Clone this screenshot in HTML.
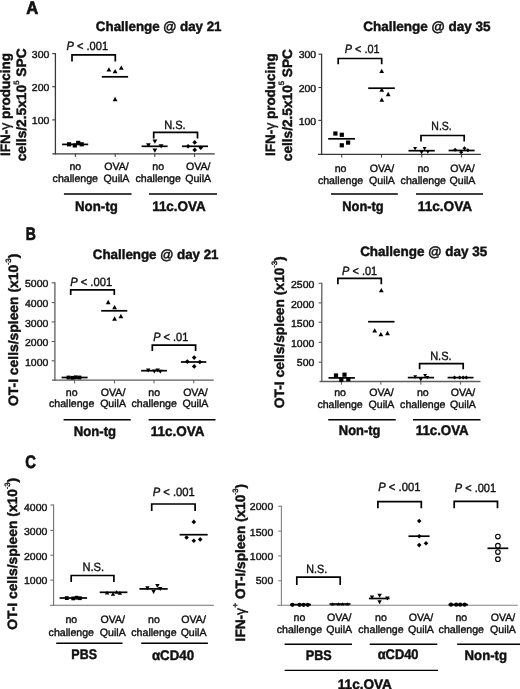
<!DOCTYPE html>
<html><head><meta charset="utf-8"><title>Figure</title>
<style>
html,body{margin:0;padding:0;background:#fff;}
body{width:520px;height:689px;overflow:hidden;}
svg{display:block;font-family:"Liberation Sans",sans-serif;will-change:transform;}
text{stroke:#111;text-rendering:geometricPrecision;}
</style></head>
<body>
<svg width="520" height="689" viewBox="0 0 520 689">
<rect width="520" height="689" fill="#fff"/>
<text x="26.15" y="13.70" font-size="18.00" stroke-width="0.70" font-weight="bold" textLength="12.00" lengthAdjust="spacingAndGlyphs" fill="#111">A</text>
<text x="95.85" y="31.30" font-size="13.60" stroke-width="0.45" font-weight="bold" textLength="125.70" lengthAdjust="spacingAndGlyphs" fill="#111">Challenge @ day 21</text>
<g transform="translate(9.70,156.00) rotate(-90) scale(0.9920,1)">
<text x="0" y="0" fill="#111" stroke-width="0.4">
<tspan x="0.00" y="0.00" font-size="13.60" stroke-width="0.45" font-weight="bold">IFN-</tspan>
<tspan x="26.44" y="0.00" font-size="14.28" stroke-width="0.40">γ</tspan>
<tspan x="37.35" y="0.00" font-size="13.60" stroke-width="0.45" font-weight="bold">producing</tspan>
</text></g>
<g transform="translate(26.20,161.30) rotate(-90) scale(1.0116,1)">
<text x="0" y="0" fill="#111" stroke-width="0.4">
<tspan x="0.00" y="0.00" font-size="13.60" stroke-width="0.45" font-weight="bold">cells/2.5x10</tspan>
<tspan x="75.62" y="-7.30" font-size="7.62" stroke-width="0.40">5</tspan>
<tspan x="83.64" y="0.00" font-size="13.60" stroke-width="0.45" font-weight="bold">SPC</tspan>
</text></g>
<line x1="55.40" y1="53.10" x2="55.40" y2="154.40" stroke="#383838" stroke-width="1.30"/>
<line x1="52.30" y1="153.80" x2="214.80" y2="153.80" stroke="#383838" stroke-width="1.30"/>
<line x1="52.20" y1="53.60" x2="55.40" y2="53.60" stroke="#383838" stroke-width="1.10"/>
<g transform="translate(31.83,0) scale(1.030,1)"><text x="0" y="57.75" font-size="10.20" stroke-width="0.40" fill="#111">300</text></g>
<line x1="52.20" y1="86.70" x2="55.40" y2="86.70" stroke="#383838" stroke-width="1.10"/>
<g transform="translate(31.83,0) scale(1.030,1)"><text x="0" y="90.75" font-size="10.20" stroke-width="0.40" fill="#111">200</text></g>
<line x1="52.20" y1="119.90" x2="55.40" y2="119.90" stroke="#383838" stroke-width="1.10"/>
<g transform="translate(31.83,0) scale(1.030,1)"><text x="0" y="123.85" font-size="10.20" stroke-width="0.40" fill="#111">100</text></g>
<line x1="75.40" y1="153.80" x2="75.40" y2="157.00" stroke="#383838" stroke-width="1.00"/>
<line x1="115.20" y1="153.80" x2="115.20" y2="157.00" stroke="#383838" stroke-width="1.00"/>
<line x1="154.80" y1="153.80" x2="154.80" y2="157.00" stroke="#383838" stroke-width="1.00"/>
<line x1="194.60" y1="153.80" x2="194.60" y2="157.00" stroke="#383838" stroke-width="1.00"/>
<text x="69.41" y="169.60" font-size="10.60" stroke-width="0.40" fill="#111">no</text>
<text x="52.61" y="181.60" font-size="10.60" stroke-width="0.40" fill="#111">challenge</text>
<text x="104.23" y="169.60" font-size="10.60" stroke-width="0.40" fill="#111">OVA/</text>
<text x="103.54" y="181.60" font-size="10.60" stroke-width="0.40" fill="#111">QuilA</text>
<text x="152.31" y="169.60" font-size="10.60" stroke-width="0.40" fill="#111">no</text>
<text x="135.51" y="181.60" font-size="10.60" stroke-width="0.40" fill="#111">challenge</text>
<text x="185.93" y="169.60" font-size="10.60" stroke-width="0.40" fill="#111">OVA/</text>
<text x="185.24" y="181.60" font-size="10.60" stroke-width="0.40" fill="#111">QuilA</text>
<line x1="63.90" y1="194.00" x2="131.60" y2="194.00" stroke="#000" stroke-width="1.40"/>
<line x1="149.00" y1="194.00" x2="217.00" y2="194.00" stroke="#000" stroke-width="1.40"/>
<text x="75.05" y="210.50" font-size="13.90" stroke-width="0.45" font-weight="bold" textLength="42.70" lengthAdjust="spacingAndGlyphs" fill="#111">Non-tg</text>
<text x="152.15" y="210.60" font-size="13.90" stroke-width="0.45" font-weight="bold" textLength="53.60" lengthAdjust="spacingAndGlyphs" fill="#111">11c.OVA</text>
<path d="M72.00 61.50 V54.90 H115.30 V61.50" fill="none" stroke="#000" stroke-width="1.70" stroke-linejoin="miter" stroke-linecap="butt"/>
<g transform="translate(66.45,50.40) scale(0.9259,1)">
<text x="0" y="0" font-size="12.00" fill="#111" stroke-width="0.4"><tspan font-style="italic">P</tspan><tspan x="11.34">&lt; .001</tspan></text>
</g>
<path d="M153.70 138.60 V132.30 H197.50 V138.60" fill="none" stroke="#000" stroke-width="1.70" stroke-linejoin="miter" stroke-linecap="butt"/>
<text x="164.15" y="128.80" font-size="12.00" stroke-width="0.40" textLength="21.50" lengthAdjust="spacingAndGlyphs" fill="#111">N.S.</text>
<line x1="62.10" y1="144.40" x2="88.20" y2="144.40" stroke="#000" stroke-width="1.70"/>
<rect x="67.00" y="142.20" width="4.20" height="4.20" fill="#000"/>
<rect x="72.70" y="143.30" width="4.20" height="4.20" fill="#000"/>
<rect x="76.10" y="140.80" width="4.20" height="4.20" fill="#000"/>
<rect x="79.60" y="142.20" width="4.20" height="4.20" fill="#000"/>
<line x1="101.80" y1="76.80" x2="128.10" y2="76.80" stroke="#000" stroke-width="1.70"/>
<path d="M106.50 71.45 L111.30 71.45 L108.90 67.15 Z" fill="#000"/>
<path d="M112.70 73.35 L117.50 73.35 L115.10 69.05 Z" fill="#000"/>
<path d="M118.90 69.75 L123.70 69.75 L121.30 65.45 Z" fill="#000"/>
<path d="M112.70 101.15 L117.50 101.15 L115.10 96.85 Z" fill="#000"/>
<line x1="141.60" y1="146.30" x2="167.60" y2="146.30" stroke="#000" stroke-width="1.70"/>
<path d="M146.00 143.15 L150.80 143.15 L148.40 147.45 Z" fill="#000"/>
<path d="M152.50 139.55 L157.30 139.55 L154.90 143.85 Z" fill="#000"/>
<path d="M158.70 144.15 L163.50 144.15 L161.10 148.45 Z" fill="#000"/>
<path d="M152.50 148.55 L157.30 148.55 L154.90 152.85 Z" fill="#000"/>
<line x1="182.00" y1="146.30" x2="208.00" y2="146.30" stroke="#000" stroke-width="1.70"/>
<path d="M188.10 144.00 L190.40 146.30 L188.10 148.60 L185.80 146.30 Z" fill="#000"/>
<path d="M194.70 140.10 L197.00 142.40 L194.70 144.70 L192.40 142.40 Z" fill="#000"/>
<path d="M194.70 147.60 L197.00 149.90 L194.70 152.20 L192.40 149.90 Z" fill="#000"/>
<path d="M200.80 145.50 L203.10 147.80 L200.80 150.10 L198.50 147.80 Z" fill="#000"/>
<text x="363.15" y="31.45" font-size="13.60" stroke-width="0.45" font-weight="bold" textLength="127.30" lengthAdjust="spacingAndGlyphs" fill="#111">Challenge @ day 35</text>
<g transform="translate(274.90,156.00) rotate(-90) scale(0.9891,1)">
<text x="0" y="0" fill="#111" stroke-width="0.4">
<tspan x="0.00" y="0.00" font-size="13.60" stroke-width="0.45" font-weight="bold">IFN-</tspan>
<tspan x="26.44" y="0.00" font-size="14.28" stroke-width="0.40">γ</tspan>
<tspan x="37.35" y="0.00" font-size="13.60" stroke-width="0.45" font-weight="bold">producing</tspan>
</text></g>
<g transform="translate(291.50,161.20) rotate(-90) scale(1.0045,1)">
<text x="0" y="0" fill="#111" stroke-width="0.4">
<tspan x="0.00" y="0.00" font-size="13.60" stroke-width="0.45" font-weight="bold">cells/2.5x10</tspan>
<tspan x="75.62" y="-7.30" font-size="7.62" stroke-width="0.40">5</tspan>
<tspan x="83.64" y="0.00" font-size="13.60" stroke-width="0.45" font-weight="bold">SPC</tspan>
</text></g>
<line x1="321.60" y1="53.70" x2="321.60" y2="154.90" stroke="#383838" stroke-width="1.30"/>
<line x1="318.00" y1="154.30" x2="480.80" y2="154.30" stroke="#383838" stroke-width="1.30"/>
<line x1="318.40" y1="54.20" x2="321.60" y2="54.20" stroke="#383838" stroke-width="1.10"/>
<g transform="translate(298.63,0) scale(1.030,1)"><text x="0" y="58.15" font-size="10.20" stroke-width="0.40" fill="#111">300</text></g>
<line x1="318.40" y1="87.50" x2="321.60" y2="87.50" stroke="#383838" stroke-width="1.10"/>
<g transform="translate(298.63,0) scale(1.030,1)"><text x="0" y="91.65" font-size="10.20" stroke-width="0.40" fill="#111">200</text></g>
<line x1="318.40" y1="120.40" x2="321.60" y2="120.40" stroke="#383838" stroke-width="1.10"/>
<g transform="translate(298.63,0) scale(1.030,1)"><text x="0" y="124.65" font-size="10.20" stroke-width="0.40" fill="#111">100</text></g>
<line x1="341.80" y1="154.30" x2="341.80" y2="157.50" stroke="#383838" stroke-width="1.00"/>
<line x1="381.50" y1="154.30" x2="381.50" y2="157.50" stroke="#383838" stroke-width="1.00"/>
<line x1="421.80" y1="154.30" x2="421.80" y2="157.50" stroke="#383838" stroke-width="1.00"/>
<line x1="461.60" y1="154.30" x2="461.60" y2="157.50" stroke="#383838" stroke-width="1.00"/>
<text x="334.71" y="171.80" font-size="10.60" stroke-width="0.40" fill="#111">no</text>
<text x="317.91" y="183.60" font-size="10.60" stroke-width="0.40" fill="#111">challenge</text>
<text x="369.73" y="171.80" font-size="10.60" stroke-width="0.40" fill="#111">OVA/</text>
<text x="369.04" y="183.60" font-size="10.60" stroke-width="0.40" fill="#111">QuilA</text>
<text x="417.41" y="171.80" font-size="10.60" stroke-width="0.40" fill="#111">no</text>
<text x="400.61" y="183.60" font-size="10.60" stroke-width="0.40" fill="#111">challenge</text>
<text x="450.23" y="171.80" font-size="10.60" stroke-width="0.40" fill="#111">OVA/</text>
<text x="449.54" y="183.60" font-size="10.60" stroke-width="0.40" fill="#111">QuilA</text>
<line x1="331.00" y1="194.00" x2="397.80" y2="194.00" stroke="#000" stroke-width="1.40"/>
<line x1="416.00" y1="194.00" x2="483.00" y2="194.00" stroke="#000" stroke-width="1.40"/>
<text x="342.25" y="210.60" font-size="13.90" stroke-width="0.45" font-weight="bold" textLength="41.40" lengthAdjust="spacingAndGlyphs" fill="#111">Non-tg</text>
<text x="417.85" y="210.60" font-size="13.90" stroke-width="0.45" font-weight="bold" textLength="54.30" lengthAdjust="spacingAndGlyphs" fill="#111">11c.OVA</text>
<path d="M338.20 64.20 V58.50 H381.70 V64.20" fill="none" stroke="#000" stroke-width="1.70" stroke-linejoin="miter" stroke-linecap="butt"/>
<g transform="translate(344.85,52.70) scale(0.9019,1)">
<text x="0" y="0" font-size="12.00" fill="#111" stroke-width="0.4"><tspan font-style="italic">P</tspan><tspan x="11.34">&lt; .01</tspan></text>
</g>
<path d="M421.00 141.50 V135.50 H464.20 V141.50" fill="none" stroke="#000" stroke-width="1.70" stroke-linejoin="miter" stroke-linecap="butt"/>
<text x="431.35" y="130.30" font-size="12.00" stroke-width="0.40" textLength="20.40" lengthAdjust="spacingAndGlyphs" fill="#111">N.S.</text>
<line x1="328.20" y1="138.80" x2="355.00" y2="138.80" stroke="#000" stroke-width="1.70"/>
<rect x="333.30" y="131.40" width="4.20" height="4.20" fill="#000"/>
<rect x="339.70" y="132.70" width="4.20" height="4.20" fill="#000"/>
<rect x="339.70" y="143.20" width="4.20" height="4.20" fill="#000"/>
<rect x="346.00" y="140.50" width="4.20" height="4.20" fill="#000"/>
<line x1="368.20" y1="88.20" x2="394.80" y2="88.20" stroke="#000" stroke-width="1.70"/>
<path d="M379.30 72.95 L384.10 72.95 L381.70 68.65 Z" fill="#000"/>
<path d="M379.40 91.75 L384.20 91.75 L381.80 87.45 Z" fill="#000"/>
<path d="M385.80 96.15 L390.60 96.15 L388.20 91.85 Z" fill="#000"/>
<path d="M379.40 101.85 L384.20 101.85 L381.80 97.55 Z" fill="#000"/>
<line x1="408.50" y1="150.70" x2="434.80" y2="150.70" stroke="#000" stroke-width="1.70"/>
<path d="M413.10 146.95 L417.10 146.95 L415.10 150.45 Z" fill="#000"/>
<path d="M422.60 146.95 L426.60 146.95 L424.60 150.45 Z" fill="#000"/>
<path d="M419.60 150.65 L423.60 150.65 L421.60 154.15 Z" fill="#000"/>
<path d="M425.80 150.25 L429.80 150.25 L427.80 153.75 Z" fill="#000"/>
<line x1="448.60" y1="150.50" x2="474.60" y2="150.50" stroke="#000" stroke-width="1.70"/>
<path d="M455.10 147.80 L457.10 149.80 L455.10 151.80 L453.10 149.80 Z" fill="#000"/>
<path d="M461.20 150.20 L463.20 152.20 L461.20 154.20 L459.20 152.20 Z" fill="#000"/>
<path d="M464.50 146.20 L466.50 148.20 L464.50 150.20 L462.50 148.20 Z" fill="#000"/>
<path d="M467.90 148.30 L469.90 150.30 L467.90 152.30 L465.90 150.30 Z" fill="#000"/>
<text x="25.75" y="239.60" font-size="18.00" stroke-width="0.70" font-weight="bold" textLength="10.10" lengthAdjust="spacingAndGlyphs" fill="#111">B</text>
<text x="92.75" y="258.50" font-size="13.60" stroke-width="0.45" font-weight="bold" textLength="125.80" lengthAdjust="spacingAndGlyphs" fill="#111">Challenge @ day 21</text>
<g transform="translate(17.80,406.00) rotate(-90) scale(1.0212,1)">
<text x="0" y="0" fill="#111" stroke-width="0.4">
<tspan x="0.00" y="0.00" font-size="13.60" stroke-width="0.45" font-weight="bold">OT-I cells/spleen (x10</tspan>
<tspan x="138.33" y="-8.00" font-size="6.12" stroke-width="0.40">-</tspan>
<tspan x="140.37" y="-7.00" font-size="7.62" stroke-width="0.40">3</tspan>
<tspan x="144.61" y="0.00" font-size="13.60" stroke-width="0.45" font-weight="bold">)</tspan>
</text></g>
<line x1="54.90" y1="282.30" x2="54.90" y2="380.80" stroke="#5c5c5c" stroke-width="1.30"/>
<line x1="52.00" y1="380.20" x2="213.70" y2="380.20" stroke="#5c5c5c" stroke-width="1.30"/>
<line x1="51.70" y1="282.80" x2="54.90" y2="282.80" stroke="#5c5c5c" stroke-width="1.10"/>
<g transform="translate(24.97,0) scale(1.030,1)"><text x="0" y="287.05" font-size="10.20" stroke-width="0.40" fill="#111">5000</text></g>
<line x1="51.70" y1="302.60" x2="54.90" y2="302.60" stroke="#5c5c5c" stroke-width="1.10"/>
<g transform="translate(24.97,0) scale(1.030,1)"><text x="0" y="307.05" font-size="10.20" stroke-width="0.40" fill="#111">4000</text></g>
<line x1="51.70" y1="321.90" x2="54.90" y2="321.90" stroke="#5c5c5c" stroke-width="1.10"/>
<g transform="translate(24.97,0) scale(1.030,1)"><text x="0" y="326.85" font-size="10.20" stroke-width="0.40" fill="#111">3000</text></g>
<line x1="51.70" y1="341.50" x2="54.90" y2="341.50" stroke="#5c5c5c" stroke-width="1.10"/>
<g transform="translate(24.97,0) scale(1.030,1)"><text x="0" y="346.25" font-size="10.20" stroke-width="0.40" fill="#111">2000</text></g>
<line x1="51.70" y1="360.80" x2="54.90" y2="360.80" stroke="#5c5c5c" stroke-width="1.10"/>
<g transform="translate(24.97,0) scale(1.030,1)"><text x="0" y="365.55" font-size="10.20" stroke-width="0.40" fill="#111">1000</text></g>
<line x1="74.60" y1="380.20" x2="74.60" y2="383.40" stroke="#5c5c5c" stroke-width="1.00"/>
<line x1="114.50" y1="380.20" x2="114.50" y2="383.40" stroke="#5c5c5c" stroke-width="1.00"/>
<line x1="154.00" y1="380.20" x2="154.00" y2="383.40" stroke="#5c5c5c" stroke-width="1.00"/>
<line x1="193.80" y1="380.20" x2="193.80" y2="383.40" stroke="#5c5c5c" stroke-width="1.00"/>
<text x="65.81" y="395.60" font-size="10.60" stroke-width="0.40" fill="#111">no</text>
<text x="49.01" y="407.40" font-size="10.60" stroke-width="0.40" fill="#111">challenge</text>
<text x="100.83" y="395.60" font-size="10.60" stroke-width="0.40" fill="#111">OVA/</text>
<text x="100.14" y="407.40" font-size="10.60" stroke-width="0.40" fill="#111">QuilA</text>
<text x="148.31" y="395.60" font-size="10.60" stroke-width="0.40" fill="#111">no</text>
<text x="131.51" y="407.40" font-size="10.60" stroke-width="0.40" fill="#111">challenge</text>
<text x="183.13" y="395.60" font-size="10.60" stroke-width="0.40" fill="#111">OVA/</text>
<text x="182.44" y="407.40" font-size="10.60" stroke-width="0.40" fill="#111">QuilA</text>
<line x1="63.60" y1="419.70" x2="130.70" y2="419.70" stroke="#000" stroke-width="1.40"/>
<line x1="148.60" y1="419.70" x2="215.50" y2="419.70" stroke="#000" stroke-width="1.40"/>
<text x="73.85" y="436.30" font-size="13.90" stroke-width="0.45" font-weight="bold" textLength="42.30" lengthAdjust="spacingAndGlyphs" fill="#111">Non-tg</text>
<text x="150.75" y="436.30" font-size="13.90" stroke-width="0.45" font-weight="bold" textLength="53.60" lengthAdjust="spacingAndGlyphs" fill="#111">11c.OVA</text>
<path d="M70.70 295.00 V289.90 H114.30 V295.00" fill="none" stroke="#000" stroke-width="1.70" stroke-linejoin="miter" stroke-linecap="butt"/>
<g transform="translate(70.15,285.90) scale(0.9326,1)">
<text x="0" y="0" font-size="12.00" fill="#111" stroke-width="0.4"><tspan font-style="italic">P</tspan><tspan x="11.34">&lt; .001</tspan></text>
</g>
<path d="M152.30 351.10 V345.10 H195.60 V351.10" fill="none" stroke="#000" stroke-width="1.70" stroke-linejoin="miter" stroke-linecap="butt"/>
<g transform="translate(153.15,341.10) scale(0.9149,1)">
<text x="0" y="0" font-size="12.00" fill="#111" stroke-width="0.4"><tspan font-style="italic">P</tspan><tspan x="11.34">&lt; .01</tspan></text>
</g>
<line x1="61.60" y1="377.50" x2="87.60" y2="377.50" stroke="#000" stroke-width="1.70"/>
<rect x="66.60" y="375.60" width="3.80" height="3.80" fill="#000"/>
<rect x="70.60" y="375.90" width="3.80" height="3.80" fill="#000"/>
<rect x="73.90" y="375.40" width="3.80" height="3.80" fill="#000"/>
<rect x="77.60" y="375.60" width="3.80" height="3.80" fill="#000"/>
<line x1="101.20" y1="310.80" x2="127.30" y2="310.80" stroke="#000" stroke-width="1.70"/>
<path d="M105.80 304.15 L110.60 304.15 L108.20 299.85 Z" fill="#000"/>
<path d="M112.20 309.35 L117.00 309.35 L114.60 305.05 Z" fill="#000"/>
<path d="M112.20 320.65 L117.00 320.65 L114.60 316.35 Z" fill="#000"/>
<path d="M118.50 318.15 L123.30 318.15 L120.90 313.85 Z" fill="#000"/>
<line x1="141.10" y1="370.70" x2="167.00" y2="370.70" stroke="#000" stroke-width="1.70"/>
<path d="M146.00 368.40 L150.40 368.40 L148.20 372.40 Z" fill="#000"/>
<path d="M152.10 369.60 L156.50 369.60 L154.30 373.60 Z" fill="#000"/>
<path d="M155.50 368.40 L159.90 368.40 L157.70 372.40 Z" fill="#000"/>
<path d="M158.10 369.80 L162.50 369.80 L160.30 373.80 Z" fill="#000"/>
<line x1="180.90" y1="362.00" x2="206.30" y2="362.00" stroke="#000" stroke-width="1.70"/>
<path d="M187.30 359.30 L189.60 361.60 L187.30 363.90 L185.00 361.60 Z" fill="#000"/>
<path d="M194.20 355.30 L196.50 357.60 L194.20 359.90 L191.90 357.60 Z" fill="#000"/>
<path d="M194.20 364.10 L196.50 366.40 L194.20 368.70 L191.90 366.40 Z" fill="#000"/>
<path d="M199.90 359.70 L202.20 362.00 L199.90 364.30 L197.60 362.00 Z" fill="#000"/>
<text x="360.15" y="255.60" font-size="13.60" stroke-width="0.45" font-weight="bold" textLength="127.00" lengthAdjust="spacingAndGlyphs" fill="#111">Challenge @ day 35</text>
<g transform="translate(284.40,408.20) rotate(-90) scale(1.0179,1)">
<text x="0" y="0" fill="#111" stroke-width="0.4">
<tspan x="0.00" y="0.00" font-size="13.60" stroke-width="0.45" font-weight="bold">OT-I cells/spleen (x10</tspan>
<tspan x="138.33" y="-8.00" font-size="6.12" stroke-width="0.40">-</tspan>
<tspan x="140.37" y="-7.00" font-size="7.62" stroke-width="0.40">3</tspan>
<tspan x="144.61" y="0.00" font-size="13.60" stroke-width="0.45" font-weight="bold">)</tspan>
</text></g>
<line x1="321.80" y1="282.80" x2="321.80" y2="382.10" stroke="#5c5c5c" stroke-width="1.30"/>
<line x1="319.50" y1="381.50" x2="480.50" y2="381.50" stroke="#5c5c5c" stroke-width="1.30"/>
<line x1="318.60" y1="283.30" x2="321.80" y2="283.30" stroke="#5c5c5c" stroke-width="1.10"/>
<g transform="translate(290.97,0) scale(1.030,1)"><text x="0" y="287.95" font-size="10.20" stroke-width="0.40" fill="#111">2500</text></g>
<line x1="318.60" y1="302.90" x2="321.80" y2="302.90" stroke="#5c5c5c" stroke-width="1.10"/>
<g transform="translate(290.97,0) scale(1.030,1)"><text x="0" y="307.65" font-size="10.20" stroke-width="0.40" fill="#111">2000</text></g>
<line x1="318.60" y1="322.20" x2="321.80" y2="322.20" stroke="#5c5c5c" stroke-width="1.10"/>
<g transform="translate(290.97,0) scale(1.030,1)"><text x="0" y="326.95" font-size="10.20" stroke-width="0.40" fill="#111">1500</text></g>
<line x1="318.60" y1="342.30" x2="321.80" y2="342.30" stroke="#5c5c5c" stroke-width="1.10"/>
<g transform="translate(290.97,0) scale(1.030,1)"><text x="0" y="346.65" font-size="10.20" stroke-width="0.40" fill="#111">1000</text></g>
<line x1="318.60" y1="362.20" x2="321.80" y2="362.20" stroke="#5c5c5c" stroke-width="1.10"/>
<g transform="translate(296.83,0) scale(1.030,1)"><text x="0" y="366.35" font-size="10.20" stroke-width="0.40" fill="#111">500</text></g>
<line x1="341.50" y1="381.50" x2="341.50" y2="384.70" stroke="#5c5c5c" stroke-width="1.00"/>
<line x1="380.90" y1="381.50" x2="380.90" y2="384.70" stroke="#5c5c5c" stroke-width="1.00"/>
<line x1="420.80" y1="381.50" x2="420.80" y2="384.70" stroke="#5c5c5c" stroke-width="1.00"/>
<line x1="460.60" y1="381.50" x2="460.60" y2="384.70" stroke="#5c5c5c" stroke-width="1.00"/>
<text x="334.21" y="395.60" font-size="10.60" stroke-width="0.40" fill="#111">no</text>
<text x="317.41" y="407.60" font-size="10.60" stroke-width="0.40" fill="#111">challenge</text>
<text x="369.23" y="395.60" font-size="10.60" stroke-width="0.40" fill="#111">OVA/</text>
<text x="368.54" y="407.60" font-size="10.60" stroke-width="0.40" fill="#111">QuilA</text>
<text x="416.91" y="395.60" font-size="10.60" stroke-width="0.40" fill="#111">no</text>
<text x="400.11" y="407.60" font-size="10.60" stroke-width="0.40" fill="#111">challenge</text>
<text x="450.73" y="395.60" font-size="10.60" stroke-width="0.40" fill="#111">OVA/</text>
<text x="450.04" y="407.60" font-size="10.60" stroke-width="0.40" fill="#111">QuilA</text>
<line x1="328.20" y1="419.80" x2="395.70" y2="419.80" stroke="#000" stroke-width="1.40"/>
<line x1="413.00" y1="419.80" x2="480.50" y2="419.80" stroke="#000" stroke-width="1.40"/>
<text x="338.85" y="435.20" font-size="13.90" stroke-width="0.45" font-weight="bold" textLength="41.60" lengthAdjust="spacingAndGlyphs" fill="#111">Non-tg</text>
<text x="415.75" y="435.20" font-size="13.90" stroke-width="0.45" font-weight="bold" textLength="52.90" lengthAdjust="spacingAndGlyphs" fill="#111">11c.OVA</text>
<path d="M337.90 284.20 V278.30 H381.30 V284.20" fill="none" stroke="#000" stroke-width="1.70" stroke-linejoin="miter" stroke-linecap="butt"/>
<g transform="translate(342.05,274.70) scale(0.9149,1)">
<text x="0" y="0" font-size="12.00" fill="#111" stroke-width="0.4"><tspan font-style="italic">P</tspan><tspan x="11.34">&lt; .01</tspan></text>
</g>
<path d="M419.60 369.30 V363.60 H463.20 V369.30" fill="none" stroke="#000" stroke-width="1.70" stroke-linejoin="miter" stroke-linecap="butt"/>
<text x="430.15" y="359.50" font-size="12.00" stroke-width="0.40" textLength="21.40" lengthAdjust="spacingAndGlyphs" fill="#111">N.S.</text>
<line x1="328.50" y1="377.90" x2="354.90" y2="377.90" stroke="#000" stroke-width="1.70"/>
<rect x="333.90" y="373.40" width="4.20" height="4.20" fill="#000"/>
<rect x="342.40" y="372.60" width="4.20" height="4.20" fill="#000"/>
<rect x="339.20" y="377.70" width="4.20" height="4.20" fill="#000"/>
<rect x="346.20" y="377.10" width="4.20" height="4.20" fill="#000"/>
<line x1="368.10" y1="321.70" x2="394.50" y2="321.70" stroke="#000" stroke-width="1.70"/>
<path d="M378.90 292.35 L383.70 292.35 L381.30 288.05 Z" fill="#000"/>
<path d="M372.30 332.55 L377.10 332.55 L374.70 328.25 Z" fill="#000"/>
<path d="M378.50 336.35 L383.30 336.35 L380.90 332.05 Z" fill="#000"/>
<path d="M385.10 335.15 L389.90 335.15 L387.50 330.85 Z" fill="#000"/>
<line x1="407.80" y1="377.60" x2="434.10" y2="377.60" stroke="#000" stroke-width="1.70"/>
<path d="M413.30 375.30 L417.10 375.30 L415.20 378.70 Z" fill="#000"/>
<path d="M418.90 378.00 L422.70 378.00 L420.80 381.40 Z" fill="#000"/>
<path d="M423.20 374.00 L427.00 374.00 L425.10 377.40 Z" fill="#000"/>
<path d="M425.40 375.90 L429.20 375.90 L427.30 379.30 Z" fill="#000"/>
<line x1="447.60" y1="377.60" x2="473.50" y2="377.60" stroke="#000" stroke-width="1.70"/>
<path d="M454.50 375.60 L456.50 377.60 L454.50 379.60 L452.50 377.60 Z" fill="#000"/>
<path d="M459.70 375.60 L461.70 377.60 L459.70 379.60 L457.70 377.60 Z" fill="#000"/>
<path d="M463.20 375.60 L465.20 377.60 L463.20 379.60 L461.20 377.60 Z" fill="#000"/>
<path d="M466.30 375.60 L468.30 377.60 L466.30 379.60 L464.30 377.60 Z" fill="#000"/>
<text x="25.35" y="467.50" font-size="18.00" stroke-width="0.70" font-weight="bold" textLength="10.70" lengthAdjust="spacingAndGlyphs" fill="#111">C</text>
<g transform="translate(16.50,629.80) rotate(-90) scale(1.0185,1)">
<text x="0" y="0" fill="#111" stroke-width="0.4">
<tspan x="0.00" y="0.00" font-size="13.60" stroke-width="0.45" font-weight="bold">OT-I cells/spleen (x10</tspan>
<tspan x="138.33" y="-8.00" font-size="6.12" stroke-width="0.40">-</tspan>
<tspan x="140.37" y="-7.00" font-size="7.62" stroke-width="0.40">3</tspan>
<tspan x="144.61" y="0.00" font-size="13.60" stroke-width="0.45" font-weight="bold">)</tspan>
</text></g>
<line x1="53.60" y1="504.50" x2="53.60" y2="605.80" stroke="#707070" stroke-width="1.10"/>
<line x1="50.00" y1="605.20" x2="213.90" y2="605.20" stroke="#707070" stroke-width="1.10"/>
<line x1="50.40" y1="505.00" x2="53.60" y2="505.00" stroke="#707070" stroke-width="1.10"/>
<g transform="translate(23.97,0) scale(1.030,1)"><text x="0" y="511.45" font-size="10.20" stroke-width="0.40" fill="#111">4000</text></g>
<line x1="50.40" y1="530.40" x2="53.60" y2="530.40" stroke="#707070" stroke-width="1.10"/>
<g transform="translate(23.97,0) scale(1.030,1)"><text x="0" y="535.35" font-size="10.20" stroke-width="0.40" fill="#111">3000</text></g>
<line x1="50.40" y1="555.20" x2="53.60" y2="555.20" stroke="#707070" stroke-width="1.10"/>
<g transform="translate(23.97,0) scale(1.030,1)"><text x="0" y="559.65" font-size="10.20" stroke-width="0.40" fill="#111">2000</text></g>
<line x1="50.40" y1="580.10" x2="53.60" y2="580.10" stroke="#707070" stroke-width="1.10"/>
<g transform="translate(23.97,0) scale(1.030,1)"><text x="0" y="584.15" font-size="10.20" stroke-width="0.40" fill="#111">1000</text></g>
<text x="65.41" y="622.60" font-size="10.60" stroke-width="0.40" fill="#111">no</text>
<text x="48.61" y="635.60" font-size="10.60" stroke-width="0.40" fill="#111">challenge</text>
<text x="100.53" y="622.60" font-size="10.60" stroke-width="0.40" fill="#111">OVA/</text>
<text x="99.84" y="635.60" font-size="10.60" stroke-width="0.40" fill="#111">QuilA</text>
<text x="148.11" y="622.60" font-size="10.60" stroke-width="0.40" fill="#111">no</text>
<text x="131.31" y="635.60" font-size="10.60" stroke-width="0.40" fill="#111">challenge</text>
<text x="181.33" y="622.60" font-size="10.60" stroke-width="0.40" fill="#111">OVA/</text>
<text x="180.64" y="635.60" font-size="10.60" stroke-width="0.40" fill="#111">QuilA</text>
<line x1="56.20" y1="643.30" x2="122.50" y2="643.30" stroke="#000" stroke-width="1.40"/>
<line x1="141.20" y1="643.30" x2="207.90" y2="643.30" stroke="#000" stroke-width="1.40"/>
<text x="71.35" y="658.60" font-size="13.90" stroke-width="0.45" font-weight="bold" textLength="25.60" lengthAdjust="spacingAndGlyphs" fill="#111">PBS</text>
<text x="151.95" y="659.50" font-size="13.90" stroke-width="0.45" font-weight="bold" textLength="42.11" lengthAdjust="spacingAndGlyphs" fill="#111">αCD40</text>
<path d="M71.20 582.00 V575.50 H113.90 V582.00" fill="none" stroke="#000" stroke-width="1.70" stroke-linejoin="miter" stroke-linecap="butt"/>
<text x="82.45" y="570.60" font-size="12.00" stroke-width="0.40" textLength="21.60" lengthAdjust="spacingAndGlyphs" fill="#111">N.S.</text>
<path d="M151.70 511.10 V504.00 H195.10 V511.10" fill="none" stroke="#000" stroke-width="1.70" stroke-linejoin="miter" stroke-linecap="butt"/>
<g transform="translate(152.65,496.00) scale(0.9348,1)">
<text x="0" y="0" font-size="12.00" fill="#111" stroke-width="0.4"><tspan font-style="italic">P</tspan><tspan x="11.34">&lt; .001</tspan></text>
</g>
<line x1="59.60" y1="598.00" x2="87.10" y2="598.00" stroke="#000" stroke-width="1.70"/>
<rect x="64.90" y="596.20" width="3.80" height="3.80" fill="#000"/>
<rect x="71.30" y="596.50" width="3.80" height="3.80" fill="#000"/>
<rect x="74.70" y="595.80" width="3.80" height="3.80" fill="#000"/>
<rect x="78.00" y="596.30" width="3.80" height="3.80" fill="#000"/>
<line x1="99.70" y1="592.30" x2="127.40" y2="592.30" stroke="#000" stroke-width="1.70"/>
<path d="M104.90 594.55 L109.30 594.55 L107.10 590.65 Z" fill="#000"/>
<path d="M110.80 595.85 L115.20 595.85 L113.00 591.95 Z" fill="#000"/>
<path d="M114.40 593.85 L118.80 593.85 L116.60 589.95 Z" fill="#000"/>
<path d="M117.70 594.65 L122.10 594.65 L119.90 590.75 Z" fill="#000"/>
<line x1="139.40" y1="588.90" x2="167.70" y2="588.90" stroke="#000" stroke-width="1.70"/>
<path d="M145.20 586.20 L149.60 586.20 L147.40 590.20 Z" fill="#000"/>
<path d="M151.40 590.00 L155.80 590.00 L153.60 594.00 Z" fill="#000"/>
<path d="M155.20 583.90 L159.60 583.90 L157.40 587.90 Z" fill="#000"/>
<path d="M158.00 586.90 L162.40 586.90 L160.20 590.90 Z" fill="#000"/>
<line x1="179.60" y1="534.70" x2="207.70" y2="534.70" stroke="#000" stroke-width="1.70"/>
<path d="M193.80 519.60 L196.10 521.90 L193.80 524.20 L191.50 521.90 Z" fill="#000"/>
<path d="M186.60 535.20 L188.90 537.50 L186.60 539.80 L184.30 537.50 Z" fill="#000"/>
<path d="M193.80 538.50 L196.10 540.80 L193.80 543.10 L191.50 540.80 Z" fill="#000"/>
<path d="M200.20 537.10 L202.50 539.40 L200.20 541.70 L197.90 539.40 Z" fill="#000"/>
<g transform="translate(244.60,641.40) rotate(-90) scale(1.0007,1)">
<text x="0" y="0" fill="#111" stroke-width="0.4">
<tspan x="0.00" y="0.00" font-size="13.60" stroke-width="0.45" font-weight="bold">IFN-</tspan>
<tspan x="26.44" y="0.00" font-size="14.28" stroke-width="0.40">γ</tspan>
<tspan x="33.58" y="-6.60" font-size="8.43" stroke-width="0.40">+</tspan>
<tspan x="42.28" y="0.00" font-size="13.60" stroke-width="0.45" font-weight="bold">OT-I/spleen (x10</tspan>
<tspan x="146.58" y="-8.00" font-size="6.12" stroke-width="0.40">-</tspan>
<tspan x="148.62" y="-7.00" font-size="7.62" stroke-width="0.40">3</tspan>
<tspan x="152.86" y="0.00" font-size="13.60" stroke-width="0.45" font-weight="bold">)</tspan>
</text></g>
<line x1="281.40" y1="505.70" x2="281.40" y2="605.80" stroke="#808080" stroke-width="1.10"/>
<line x1="277.20" y1="605.20" x2="517.70" y2="605.20" stroke="#808080" stroke-width="1.10"/>
<line x1="278.20" y1="506.20" x2="281.40" y2="506.20" stroke="#808080" stroke-width="1.10"/>
<g transform="translate(249.87,0) scale(1.030,1)"><text x="0" y="510.45" font-size="10.20" stroke-width="0.40" fill="#111">2000</text></g>
<line x1="278.20" y1="531.10" x2="281.40" y2="531.10" stroke="#808080" stroke-width="1.10"/>
<g transform="translate(249.87,0) scale(1.030,1)"><text x="0" y="535.55" font-size="10.20" stroke-width="0.40" fill="#111">1500</text></g>
<line x1="278.20" y1="555.90" x2="281.40" y2="555.90" stroke="#808080" stroke-width="1.10"/>
<g transform="translate(249.87,0) scale(1.030,1)"><text x="0" y="560.15" font-size="10.20" stroke-width="0.40" fill="#111">1000</text></g>
<line x1="278.20" y1="580.80" x2="281.40" y2="580.80" stroke="#808080" stroke-width="1.10"/>
<g transform="translate(255.73,0) scale(1.030,1)"><text x="0" y="584.45" font-size="10.20" stroke-width="0.40" fill="#111">500</text></g>
<text x="293.51" y="620.60" font-size="10.60" stroke-width="0.40" fill="#111">no</text>
<text x="276.71" y="632.60" font-size="10.60" stroke-width="0.40" fill="#111">challenge</text>
<text x="326.93" y="620.60" font-size="10.60" stroke-width="0.40" fill="#111">OVA/</text>
<text x="326.24" y="632.60" font-size="10.60" stroke-width="0.40" fill="#111">QuilA</text>
<text x="375.11" y="620.60" font-size="10.60" stroke-width="0.40" fill="#111">no</text>
<text x="358.31" y="632.60" font-size="10.60" stroke-width="0.40" fill="#111">challenge</text>
<text x="408.73" y="620.60" font-size="10.60" stroke-width="0.40" fill="#111">OVA/</text>
<text x="408.04" y="632.60" font-size="10.60" stroke-width="0.40" fill="#111">QuilA</text>
<text x="455.41" y="620.60" font-size="10.60" stroke-width="0.40" fill="#111">no</text>
<text x="438.61" y="632.60" font-size="10.60" stroke-width="0.40" fill="#111">challenge</text>
<text x="490.73" y="620.60" font-size="10.60" stroke-width="0.40" fill="#111">OVA/</text>
<text x="490.04" y="632.60" font-size="10.60" stroke-width="0.40" fill="#111">QuilA</text>
<line x1="284.60" y1="644.30" x2="352.00" y2="644.30" stroke="#000" stroke-width="1.40"/>
<line x1="369.70" y1="644.30" x2="437.30" y2="644.30" stroke="#000" stroke-width="1.40"/>
<line x1="457.20" y1="644.30" x2="520.50" y2="644.30" stroke="#000" stroke-width="1.40"/>
<line x1="284.60" y1="670.40" x2="438.00" y2="670.40" stroke="#000" stroke-width="1.40"/>
<text x="305.75" y="660.00" font-size="13.90" stroke-width="0.45" font-weight="bold" textLength="25.90" lengthAdjust="spacingAndGlyphs" fill="#111">PBS</text>
<text x="377.65" y="659.20" font-size="13.90" stroke-width="0.45" font-weight="bold" textLength="40.91" lengthAdjust="spacingAndGlyphs" fill="#111">αCD40</text>
<text x="464.55" y="660.30" font-size="13.90" stroke-width="0.45" font-weight="bold" textLength="42.50" lengthAdjust="spacingAndGlyphs" fill="#111">Non-tg</text>
<text x="337.75" y="688.80" font-size="13.90" stroke-width="0.45" font-weight="bold" textLength="54.20" lengthAdjust="spacingAndGlyphs" fill="#111">11c.OVA</text>
<path d="M296.80 585.00 V577.20 H340.20 V585.00" fill="none" stroke="#000" stroke-width="1.70" stroke-linejoin="miter" stroke-linecap="butt"/>
<text x="306.35" y="573.40" font-size="12.00" stroke-width="0.40" textLength="20.90" lengthAdjust="spacingAndGlyphs" fill="#111">N.S.</text>
<path d="M377.90 508.30 V501.70 H421.30 V508.30" fill="none" stroke="#000" stroke-width="1.70" stroke-linejoin="miter" stroke-linecap="butt"/>
<g transform="translate(378.25,491.30) scale(0.9370,1)">
<text x="0" y="0" font-size="12.00" fill="#111" stroke-width="0.4"><tspan font-style="italic">P</tspan><tspan x="11.34">&lt; .001</tspan></text>
</g>
<path d="M454.20 508.30 V501.30 H497.50 V508.30" fill="none" stroke="#000" stroke-width="1.70" stroke-linejoin="miter" stroke-linecap="butt"/>
<g transform="translate(454.85,491.70) scale(0.9148,1)">
<text x="0" y="0" font-size="12.00" fill="#111" stroke-width="0.4"><tspan font-style="italic">P</tspan><tspan x="11.34">&lt; .001</tspan></text>
</g>
<line x1="290.00" y1="604.60" x2="311.00" y2="604.60" stroke="#000" stroke-width="1.70"/>
<circle cx="292.40" cy="604.80" r="2.10" fill="#000"/>
<circle cx="299.60" cy="604.80" r="2.10" fill="#000"/>
<circle cx="303.60" cy="604.80" r="2.10" fill="#000"/>
<circle cx="307.80" cy="604.80" r="2.10" fill="#000"/>
<line x1="329.50" y1="604.00" x2="350.50" y2="604.00" stroke="#000" stroke-width="1.70"/>
<path d="M330.70 605.60 L334.50 605.60 L332.60 602.20 Z" fill="#000"/>
<path d="M336.60 605.60 L340.40 605.60 L338.50 602.20 Z" fill="#000"/>
<path d="M340.70 605.60 L344.50 605.60 L342.60 602.20 Z" fill="#000"/>
<path d="M345.40 605.60 L349.20 605.60 L347.30 602.20 Z" fill="#000"/>
<line x1="368.90" y1="598.50" x2="389.60" y2="598.50" stroke="#000" stroke-width="1.70"/>
<path d="M369.80 595.60 L374.20 595.60 L372.00 599.60 Z" fill="#000"/>
<path d="M377.40 593.70 L381.80 593.70 L379.60 597.70 Z" fill="#000"/>
<path d="M377.40 600.20 L381.80 600.20 L379.60 604.20 Z" fill="#000"/>
<path d="M385.10 596.60 L389.50 596.60 L387.30 600.60 Z" fill="#000"/>
<line x1="408.50" y1="536.20" x2="429.60" y2="536.20" stroke="#000" stroke-width="1.70"/>
<path d="M419.20 518.70 L421.50 521.00 L419.20 523.30 L416.90 521.00 Z" fill="#000"/>
<path d="M419.20 533.90 L421.50 536.20 L419.20 538.50 L416.90 536.20 Z" fill="#000"/>
<path d="M419.20 542.80 L421.50 545.10 L419.20 547.40 L416.90 545.10 Z" fill="#000"/>
<path d="M426.00 540.90 L428.30 543.20 L426.00 545.50 L423.70 543.20 Z" fill="#000"/>
<line x1="448.50" y1="604.60" x2="468.00" y2="604.60" stroke="#000" stroke-width="1.70"/>
<circle cx="451.00" cy="604.70" r="2.10" fill="#000"/>
<circle cx="456.20" cy="604.70" r="2.10" fill="#000"/>
<circle cx="460.20" cy="604.70" r="2.10" fill="#000"/>
<circle cx="464.60" cy="604.70" r="2.10" fill="#000"/>
<line x1="487.50" y1="548.30" x2="508.30" y2="548.30" stroke="#000" stroke-width="1.70"/>
<circle cx="497.90" cy="536.60" r="2.30" fill="#fff" stroke="#000" stroke-width="1.10"/>
<circle cx="497.90" cy="545.70" r="2.30" fill="#fff" stroke="#000" stroke-width="1.10"/>
<circle cx="497.90" cy="552.10" r="2.30" fill="#fff" stroke="#000" stroke-width="1.10"/>
<circle cx="497.90" cy="559.20" r="2.30" fill="#fff" stroke="#000" stroke-width="1.10"/>
</svg>
</body></html>
